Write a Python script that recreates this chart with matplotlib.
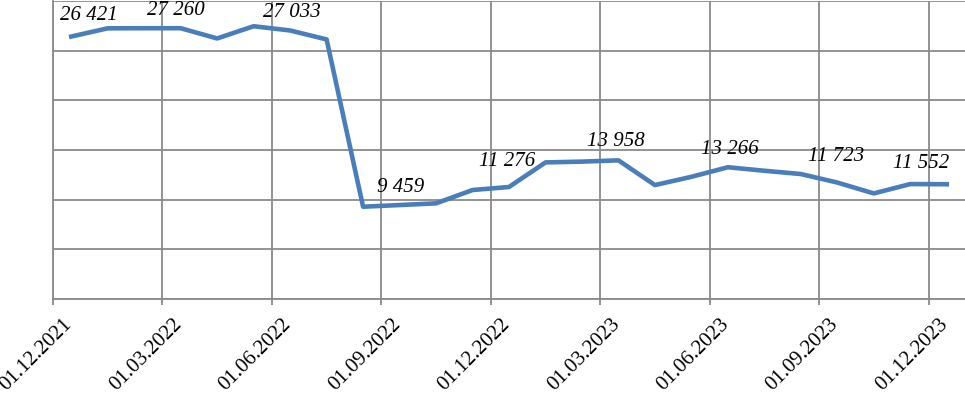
import matplotlib
matplotlib.use('Agg')
import matplotlib.pyplot as plt
import matplotlib.transforms as mtransforms
import numpy as np

plt.rcParams['font.family'] = ['Liberation Serif', 'DejaVu Serif']

# ДАННЫЕ (помесячно, декабрь 2021 - декабрь 2023)
values = [26421, 27250, 27260, 27260, 26230, 27460, 27033, 26130,
          9290, 9459, 9630, 10970, 11276, 13750, 13830, 13958,
          11470, 12300, 13266, 12910, 12580, 11723, 10630, 11570, 11552]
tick_labels = ['01.12.2021', '01.03.2022', '01.06.2022', '01.09.2022', '01.12.2022',
               '01.03.2023', '01.06.2023', '01.09.2023', '01.12.2023']
labeled_idx = [0, 3, 6, 9, 12, 15, 18, 21, 24]

# смещения подписей значений (пиксели)
label_offsets = [(18, 21), (-5, 18), (2, 18), (1, 18), (-2, 25),
                 (-3, 19), (2, 18), (-1, 26), (-26, 21)]

GRID = '#8a8a8a'
LINE = '#4a7ebb'

fig = plt.figure(figsize=(9.65, 3.93), dpi=100)
ax = fig.add_axes([53 / 965, 94 / 393, 912 / 965, 298 / 393])

x = np.arange(len(values)) + 0.5
ax.plot(x, values, color=LINE, linewidth=3.3, solid_joinstyle='round', zorder=3)

for i, (dx, dy) in zip(labeled_idx, label_offsets):
    ax.annotate(f"{values[i]:,}".replace(',', ' '), (x[i], values[i]),
                xytext=(dx, dy), textcoords='offset pixels',
                ha='center', va='center', fontsize=15, style='italic', zorder=4)

ax.set_xlim(0, len(values))
ax.set_ylim(0, 30000)
ax.set_yticks(np.arange(0, 30001, 5000))
ax.set_yticklabels([])
ax.set_xticks(np.arange(0, len(values), 3))
ax.set_xticklabels(tick_labels, rotation=45, ha='right', va='center',
                   rotation_mode='anchor', fontsize=15)

ax.grid(True, color=GRID, linewidth=1.3)
ax.set_axisbelow(True)
ax.tick_params(axis='y', length=0)
ax.tick_params(axis='x', length=4.5, color=GRID, width=1.3, pad=12)

offset = mtransforms.ScaledTranslation(12 / 72, 0, fig.dpi_scale_trans)
for lbl in ax.get_xticklabels():
    lbl.set_transform(lbl.get_transform() + offset)

for s in ['top', 'right']:
    ax.spines[s].set_visible(False)
for s in ['left', 'bottom']:
    ax.spines[s].set_color(GRID)
    ax.spines[s].set_linewidth(1.3)

fig.savefig('out.png', dpi=100)
